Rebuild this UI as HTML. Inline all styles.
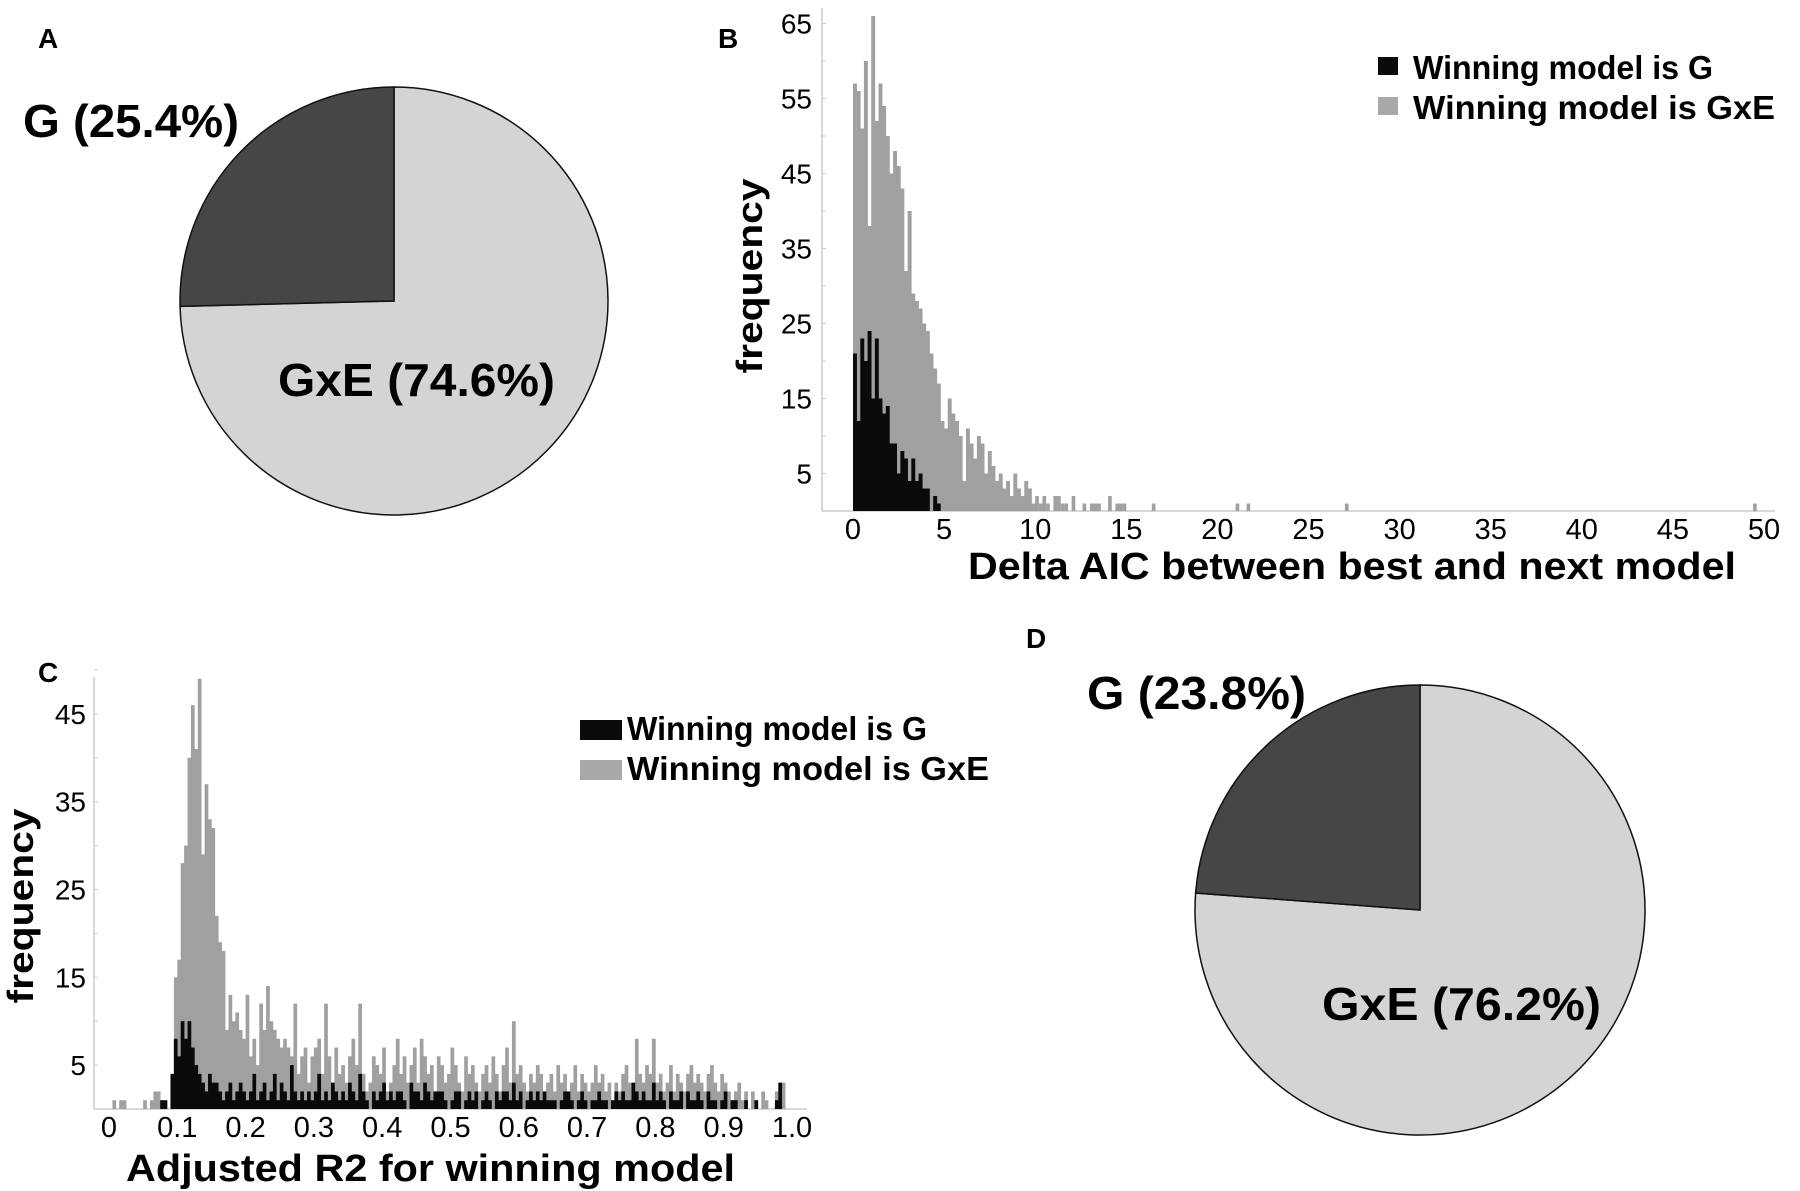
<!DOCTYPE html>
<html><head><meta charset="utf-8"><style>
html,body{margin:0;padding:0;background:#fff}
svg{display:block}
text{font-family:"Liberation Sans",sans-serif}
.b{font-weight:bold}
</style></head><body>
<svg id="fig" width="1800" height="1191" viewBox="0 0 1800 1191" xmlns="http://www.w3.org/2000/svg">
<g id="panelA"></g>
<g id="panelB"></g>
<g id="panelC"></g>
<g id="panelD"></g>
<text x="38" y="48" font-size="28" class="b">A</text>
<text x="718" y="48" font-size="28" class="b">B</text>
<text x="38" y="682" font-size="28" class="b">C</text>
<text x="1026" y="648" font-size="28" class="b">D</text>
</svg>
<script>
// ---- Pie data ----
const pieALabels = ["G (25.4%)", "GxE (74.6%)"];
const pieAShares = [25.4, 74.6];
const pieDLabels = ["G (23.8%)", "GxE (76.2%)"];
const pieDShares = [23.8, 76.2];

// ---- Histogram B data (bin width 0.2) ----
const bBinWidth = 0.2;
const bGray = [57,56,51,60,38,66,52,57,54,50,45,48,46,43,32,40,29,28,27,25,24,21,19,17,12,11,15,13,12,10,4,11,9,7,10,9,5,8,6,4,5,3,4,2,5,3,2,4,3,1];
const bBlack = [21,12,23,20,24,15,23,15,13,14,9,9,5,8,7,4,7,4,5,3,3,0,2,1];
const bTailBins = [50,51,52,53,55,56,57,58,60,63,65,66,67,70,72,73,74,82,105,108,135,247];
const bTailVals = [2,1,2,1,2,2,1,1,2,1,1,1,1,2,1,1,1,1,1,1,1,1];
const bXTicks = [0,5,10,15,20,25,30,35,40,45,50];
const bYTicks = [5,15,25,35,45,55,65];

// ---- Histogram C data (bin width 0.005) ----
const cBinWidth = 0.005;
const cGray = [0,1,0,1,1,0,0,0,0,0,1,0,1,2,2,1,0,0,
4,15,17,28,30,40,46,41,49,29,37,33,32,22,19,18,9,13,10,11,9,8,13,6,8,5,12,9,14,10,9,8,7,8,7,6,12,4,6,7,3,6,7,8,4,12,6,3,7,4,
5,3,6,8,5,12,4,2,3,6,5,4,7,2,3,5,8,4,6,3,
5,7,3,8,6,4,5,2,6,5,3,4,7,5,3,2,6,4,5,3,
2,4,5,3,6,4,2,5,7,3,10,4,5,3,2,4,3,5,4,2,
3,4,2,5,3,4,2,3,5,2,4,3,2,3,5,3,4,2,3,1,
3,2,4,5,3,2,8,4,3,5,4,8,3,4,2,3,5,2,4,3,
2,4,5,3,4,3,2,4,5,3,2,4,3,2,1,2,3,1,2,0,
2,1,0,2,1,0,0,2,3,3,0,0];
const cBlack = [0,0,0,0,0,0,0,0,0,0,0,0,0,0,0,1,1,0,
4,8,6,10,8,10,7,5,4,3,2,4,3,3,2,1,2,3,1,2,3,2,1,2,4,1,2,3,1,2,4,1,3,2,1,5,2,1,2,1,2,1,2,4,1,2,1,3,2,1,
2,1,3,2,1,4,2,1,0,2,1,2,3,1,2,1,2,2,1,0,
3,2,2,1,3,2,1,2,2,2,1,0,1,2,2,0,1,2,1,2,
0,1,2,1,0,2,1,2,2,1,3,1,2,0,1,2,1,2,1,2,
1,1,1,0,1,2,2,1,0,1,2,1,0,1,1,2,1,1,0,1,
2,1,2,1,1,3,2,1,2,1,1,3,1,2,1,0,2,1,1,2,
0,2,1,1,2,1,0,2,1,1,0,1,2,0,1,1,0,0,1,0,
0,1,0,0,0,0,0,1,3,0,0,0];
const cXTicks = ["0","0.1","0.2","0.3","0.4","0.5","0.6","0.7","0.8","0.9","1.0"];
const cYTicks = [5,15,25,35,45];

const NS = "http://www.w3.org/2000/svg";
function mk(tag, attrs, parent){
  const e = document.createElementNS(NS, tag);
  for (const k in attrs) e.setAttribute(k, attrs[k]);
  parent.appendChild(e);
  return e;
}

function drawPie(g, shares, labels, cx, cy, r, lab1, lab2){
  const total = shares[0] + shares[1];
  const a0 = -Math.PI/2;
  const aG = a0 - shares[0]/total*2*Math.PI;
  const px = a => cx + r*Math.cos(a), py = a => cy + r*Math.sin(a);
  const light = mk("path", {d:`M${cx},${cy} L${px(a0)},${py(a0)} A${r},${r} 0 ${shares[1]/total>0.5?1:0} 1 ${px(aG)},${py(aG)} Z`, fill:"#d4d4d4", stroke:"#111", "stroke-width":1.5}, g);
  
  
  const dark = mk("path", {d:`M${cx},${cy} L${px(aG)},${py(aG)} A${r},${r} 0 ${shares[0]/total>0.5?1:0} 1 ${px(a0)},${py(a0)} Z`, fill:"#464646", stroke:"#111", "stroke-width":1.5}, g);
  
  
  const t1 = mk("text", {x:lab1[0], y:lab1[1], "font-size":46, "font-weight":"bold", textLength:lab1[2], lengthAdjust:"spacingAndGlyphs"}, g);
  t1.textContent = labels[0];
  
  
  const t2 = mk("text", {x:lab2[0], y:lab2[1], "font-size":46, "font-weight":"bold", textLength:lab2[2], lengthAdjust:"spacingAndGlyphs"}, g);
  t2.textContent = labels[1];
  
  
}

drawPie(document.getElementById("panelA"), pieAShares, pieALabels, 394, 301, 214, [23,137,216], [278,396,277]);
drawPie(document.getElementById("panelD"), pieDShares, pieDLabels, 1420, 910, 225, [1087,709,219], [1322,1020,279]);

function drawHist(g, o){
  const xs = v => o.x0 + v*o.xs;
  const ys = v => o.base - v*o.ys;
  const ya = mk("line", {x1:o.axisX, y1:o.top, x2:o.axisX, y2:o.base, stroke:"#ccc", "stroke-width":1.5}, g);
  
  
  const xa = mk("line", {x1:o.axisX, y1:o.base, x2:o.axisEnd, y2:o.base, stroke:"#ccc", "stroke-width":1.5}, g);
  
  
  for (let v = 0; v <= o.ymax; v += 5){
    const tk = mk("line", {x1:o.axisX, y1:ys(v), x2:o.axisX+4, y2:ys(v), stroke:"#ccc", "stroke-width":1}, g);
    
    
  }
  o.yTicks.forEach(v => {
    const t = mk("text", {x:o.ylabX, y:ys(v)+10, "font-size":28, "text-anchor":"end"}, g);
    t.textContent = v;
    
    
  });
  o.xTicks.forEach((lab, i) => {
    const t = mk("text", {x:xs(o.xTickVals[i]), y:o.base+o.xlabDy, "font-size":29, "text-anchor":"middle"}, g);
    t.textContent = lab;
    
    
  });
  const bw = o.bin*o.xs;
  o.gray.forEach((v, i) => {
    if (!v) return;
    const r = mk("rect", {x:xs(o.start + i*o.bin), y:ys(v), width:bw+0.3, height:v*o.ys, fill:"#a0a0a0"}, g);
    
    
  });
  (o.tailBins||[]).forEach((b, i) => {
    const v = o.tailVals[i];
    const r = mk("rect", {x:xs(b*o.bin), y:ys(v), width:bw, height:v*o.ys, fill:"#a0a0a0"}, g);
    
    
  });
  o.black.forEach((v, i) => {
    if (!v) return;
    const r = mk("rect", {x:xs(o.start + i*o.bin), y:ys(v), width:bw+0.3, height:v*o.ys, fill:"#0a0a0a"}, g);
    
    
  });
  const lk = mk("rect", {x:o.leg[0], y:o.leg[1], width:o.leg[2], height:o.leg[3], fill:"#0a0a0a"}, g);
  
  
  const lg = mk("rect", {x:o.leg[0], y:o.leg[1]+o.leg[4], width:o.leg[2], height:o.leg[3], fill:"#a8a8a8"}, g);
  
  
  const l1 = mk("text", {x:o.legT[0], y:o.legT[1], "font-size":33, "font-weight":"bold", textLength:o.legT[2], lengthAdjust:"spacingAndGlyphs"}, g);
  l1.textContent = "Winning model is G";
  
  
  const l2 = mk("text", {x:o.legT[0], y:o.legT[1]+o.leg[4], "font-size":33, "font-weight":"bold", textLength:o.legT[3], lengthAdjust:"spacingAndGlyphs"}, g);
  l2.textContent = "Winning model is GxE";
  
  
  const xt = mk("text", {x:o.xt[0], y:o.xt[1], "font-size":38, "font-weight":"bold", textLength:o.xt[2], lengthAdjust:"spacingAndGlyphs"}, g);
  xt.textContent = o.xTitle;
  
  
  const yt = mk("text", {x:0, y:0, "font-size":36, "font-weight":"bold", "text-anchor":"middle", textLength:195, lengthAdjust:"spacingAndGlyphs", transform:`translate(${o.yt[0]},${o.yt[1]}) rotate(-90)`}, g);
  yt.textContent = "frequency";
  
  
}

drawHist(document.getElementById("panelB"), {
  x0:853, xs:18.22, base:511, ys:7.5, axisX:822, axisEnd:1775, top:8, ymax:65,
  ylabX:812, xlabDy:28,
  bin:bBinWidth, start:0, gray:bGray, black:bBlack, tailBins:bTailBins, tailVals:bTailVals,
  xTicks:bXTicks.map(String), xTickVals:bXTicks, yTicks:bYTicks,
  leg:[1378,57,20,18,40], legT:[1413,79,300,362],
  xTitle:"Delta AIC between best and next model", xt:[968,579,768], yt:[762,276]
});
drawHist(document.getElementById("panelC"), {
  x0:109, xs:683, base:1109, ys:8.78, axisX:94, axisEnd:807, top:677, ymax:50,
  ylabX:86, xlabDy:28,
  bin:cBinWidth, start:0, gray:cGray, black:cBlack,
  xTicks:cXTicks, xTickVals:cXTicks.map(Number), yTicks:cYTicks,
  leg:[580,720,42,20,40], legT:[627,740,300,362],
  xTitle:"Adjusted R2 for winning model", xt:[126,1181,609], yt:[33,906]
});
</script>
</body></html>
